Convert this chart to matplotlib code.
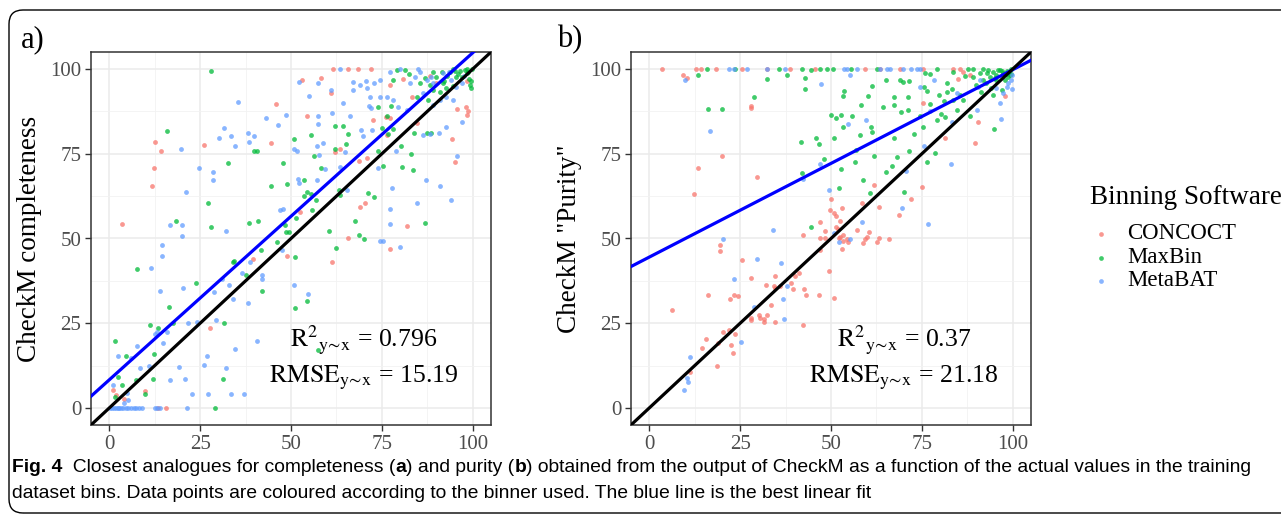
import numpy as np
import matplotlib
matplotlib.use('Agg')
import matplotlib.pyplot as plt
import matplotlib.patches as mpatches
from matplotlib.lines import Line2D

plt.rcParams['font.family'] = ['Liberation Serif', 'DejaVu Serif']
plt.rcParams['mathtext.fontset'] = 'stix'

binners = ['CONCOCT', 'MaxBin', 'MetaBAT']
colours = ['#F8766D', '#00BA38', '#619CFF']

# ---- panel a: completeness (actual x, CheckM y) ----
a_concoct_x = [3.4, 12.6, 14.3, 12.4, 11.7, 1.1, 1.8, 4.1, 9.9, 15.5, 13.5, 27.7, 26, 39.6, 45.9,
               44.4, 48.9, 52.6, 52.9, 54.5, 58.3, 61.5, 65.6, 68.4, 71.9, 61, 62.1, 63.5, 61.4,
               65.6, 68.7, 71, 70.3, 69.1, 72.5, 76, 77.2, 76.3, 77.2, 82, 83.3, 84.6, 94.4, 95,
               95.7, 98.1, 98.6, 98.4, 80.7, 77.2, 90, 88.2, 98.3]
a_concoct_y = [54.3, 78.5, 75.7, 70.7, 65.5, 5.2, 3.9, 2.8, 4.9, 0, 0, 23.6, 77.6, 44.1, 89.7,
               78.3, 44.7, 57.7, 96.7, 86.2, 97.3, 100, 100, 100, 100, 92.8, 75.5, 76.5, 43.2,
               50.1, 73, 73.7, 60.6, 59.3, 84.8, 85.8, 85.4, 80.5, 46.8, 53.7, 91.7, 84.2, 79.4, 72.6,
               88.1, 88.9, 87.7, 86.4, 97.1, 95.4, 95.8, 97.9, 96.5]

a_maxbin_x = [27.9, 15.9, 7.6, 1.6, 2.3, 3.6, 4.6, 1.6, 7.5, 9.9, 11.2, 13.5, 12.3, 12, 16.4,
              17.5, 18.4, 23.8, 27.3, 27.9, 29.2, 31.3, 31.7, 32.7, 34, 34.3, 37.6, 38.5, 39.7,
              40.6, 41, 41.7, 42.1, 44.4, 46.1, 47.9, 48.3, 49, 48.6, 49.5, 50.8, 51.2, 51, 51.3,
              53.6, 54.5, 54.5, 55.6, 53.6, 55.9, 55.6, 56.2, 56.9, 58.2, 60.5, 62.1, 62.1, 62.4,
              63.2, 63.5, 64.4, 65.6, 65, 67.5, 68.6, 70.1, 71.1, 72.7, 73.9, 74.9, 75.4, 76.8,
              78.1, 80.2, 80.6, 82.9, 83.6, 83.7, 86.9, 87.5, 88.6, 74, 77.6, 82.4, 85.5, 87.7,
              89.1, 91.9, 93.7, 95.5, 97.8, 98.7, 99.5, 99.1, 79.1, 81.4, 78.1, 84.6, 90.9, 92.7,
              88.2, 90, 94.6, 96.4, 99.7, 98.3, 89.1, 86.8, 76.3, 57.4, 93, 96, 97, 99, 95, 92,
              98.5, 99.5, 94.5, 91.5]
a_maxbin_y = [99.4, 81.6, 41, 19.9, 9.3, 6.7, 15.4, 3.4, 8.3, 4.1, 24.6, 23.5, 15.9, 8.6, 29.9,
              25, 55.2, 37, 60.4, 53.4, 0, 8.5, 25, 72.4, 43, 43.4, 39.2, 54.5, 75.8,
              75.8, 55.3, 46.7, 34.5, 65.6, 48.9, 72.4, 53.9, 66.2, 51.8, 51.8, 79.3, 29.5, 44.6, 56.1,
              67.3, 31.6, 63.7, 63, 62.4, 58.4, 80.6, 74.4, 61.4, 70.9, 52.3, 76.5, 83.1, 47.3,
              64.4, 62.7, 83.2, 80.9, 77.9, 55.3, 51, 49.8, 63.4, 62.3, 75.9, 82.6, 71.5, 80.7,
              82.3, 77.3, 71.1, 74.9, 70.2, 81, 54.5, 81.2, 81.2, 88.7, 89.1, 98.5, 96, 90.9,
              93.8, 95.8, 99.2, 97.7, 99.7, 99.2, 94.3, 95.3, 99.7, 99.7, 96.8, 91.8, 93.3, 94.3,
              95.3, 97.7, 100, 99.5, 100, 100, 99.2, 97.3, 86, 17.2, 98, 98.5, 97.5, 97, 99.5, 96.5,
              98.8, 96.5, 95, 99]

a_metabat_x = [35.4, 31.7, 33.4, 34.6, 30.2, 38.1, 39.8, 38.4, 43.2, 46.3, 48.5, 52.1, 54.9, 57.3,
               61, 64.3, 61.2, 57.3, 57.4, 19.7, 24.6, 28.6, 28.6, 21.2, 16.6, 19.9, 19.9, 14.5,
               14.5, 32.1, 11.4, 13.9, 20.3, 14.9, 15.8, 12.5, 13.2, 2.3, 7.6, 6.1, 1, 8.5, 11,
               4.8, 5.3, 4.1, 0.3, 0.8, 1.3, 1.8, 2.3, 2.8, 3.3, 3.8, 4.5, 5.2, 6, 6.8, 7.5, 8.3, 9,
               12.5, 13.2, 14, 21.3, 16.8, 19.3, 20.8, 22.9, 26, 27.3, 26.8, 29.5, 33.5, 34.6, 37,
               32, 21.8, 24.2, 28.8, 30.9, 33, 34.1, 36.6, 38.1, 38.6, 40.6, 41.9, 42.1, 50.7, 50.7,
               51.6, 51.9, 52.3, 47.9, 47.1, 47.5, 54.6, 57.2, 57.6, 58.9, 59.4, 57.1, 64.9, 65.4,
               63.6, 66.3, 69.3, 69.9, 71.5, 71.9, 72.4, 74, 74.5, 75.2, 77.9, 77.2, 77.2, 79.9, 79,
               87.1, 84.6, 91, 94, 95.6, 97.1, 88.2, 86.4, 90.8, 92.6, 94.6, 74.5, 76.3, 74.5, 70.8,
               69, 67.1, 72.7, 78.1, 79.5, 81.8, 84.1, 84.8, 85.6, 80, 63.5, 77.2, 87.3, 89.1, 91.9,
               94.1, 95.5, 96.9, 90.9, 92.7, 89.1, 86.4, 82.7, 71.6, 70.5, 67.1, 93.5, 97.5, 88.5]
a_metabat_y = [90.2, 82.7, 80.2, 77.4, 79.7, 81.1, 80.1, 78.6, 85.5, 83.5, 86.3, 96.3, 92, 95.8,
               93.8, 89.9, 86.9, 83.8, 86.2, 76.4, 70.8, 69.5, 67.2, 63.8, 54, 54, 50.6, 48,
               44.9, 52.2, 41.4, 34.4, 35.4, 19.1, 22.3, 21.8, 22.4, 15.4, 18.2, 14.7, 6.9, 11.8, 12.3,
               4.4, 2.5, 1.5, 0, 0, 0, 0, 0, 0, 0, 0, 0, 0, 0, 0, 0, 0, 0,
               0, 0, 0, 0, 8.3, 12, 8.5, 4.1, 12.6, 4, 15.4, 25.9, 4, 17.3, 4,
               11.9, 25, 25.4, 34.3, 38.2, 36.3, 32.2, 39.8, 30.9, 43.2, 19.9, 39.2, 38, 36.4, 76.3,
               75.9, 67.5, 66.5, 58.6, 58.4, 46.7, 33.5, 77.3, 74.6, 78.2, 70.6, 67.3, 75.5, 64.4,
               71.2, 86, 82, 80.3, 89.1, 88.4, 82, 70.7, 49.2, 49.2, 64.8, 58.6, 54.3, 47.5, 75.8,
               67.3, 60.4, 65.6, 61.3, 74.2, 84.5, 80.8, 80.6, 81.2, 82.8, 90.9, 96.8, 91.8, 91.8, 94.3,
               95.3, 96.3, 95.8, 90.9, 88.9, 87.9, 97.7, 100, 99.2, 100, 100, 99.2, 96.8, 95.8, 98.7,
               96.8, 94.8, 95.8, 90.9, 91.8, 89.4, 92.8, 95.8, 91.8, 96.4, 93.8, 99, 98, 97.5]

# ---- panel b: purity ----
b_concoct_x = [3.4, 12.8, 14.2, 18.5, 25.6, 32.3, 38.8, 45.7, 59.4, 63.5, 69, 75.4, 83.6, 85.4,
               86.3, 88.2, 85, 9.3, 10.5, 27.9, 27.9, 20.1, 13.5, 12.2, 29.7, 6.2, 16.2, 25.6,
               19.6, 19.4, 20.4, 22, 22.1, 23.3, 24.5, 23.7, 22.4, 23.1, 15.5, 14.6, 18.7, 18.8,
               11.2, 27.9, 27.9, 28, 30.2, 30.6, 31.5, 31.7, 32.4, 32, 33.4, 34.3, 34.5, 34.5,
               34.5, 36.1, 39, 39.5, 40, 41.2, 42.3, 42.7, 43.1, 42.2, 46.6, 47.1, 46.9, 46.9,
               48.4, 48.4, 49.5, 49.7, 50.1, 50.7, 50.7, 51.3, 51.5, 51.9, 52.5, 52.9, 52.5, 53.4,
               53.2, 54.4, 54.8, 52.9, 52.1, 57.1, 58.5, 58.7, 59.4, 59.9, 60.5, 61.9, 62.6, 63.1,
               63.2, 65.9, 68.6, 71.9, 74.9, 75.3, 81.4, 89.7, 90.3, 97.8]
b_concoct_y = [100, 100, 100, 100, 100, 100, 100, 100, 100, 100, 100, 100, 100, 100,
               99.2, 98.2, 97.1, 98.1, 97.3, 89.1, 88.4, 74.2, 70.9, 63, 68.2, 29, 33.2, 43.6,
               48.2, 46.2, 22.3, 22.9, 32.1, 33.3, 32.9, 21.7, 18.5, 16.2, 20.4, 17.6, 12.3, 19.2,
               10.6, 38.4, 26.5, 26, 27.5, 26.5, 26.2, 25.3, 27.5, 36.3, 30.4, 35.9, 35.4, 38.9,
               25.3, 36, 36.8, 35.1, 38.8, 39.8, 24.5, 35.1, 33.2, 51.1, 33.3, 46.7, 54.8, 50,
               52.1, 50, 40.3, 58.4, 61.7, 32.4, 57.5, 56.7, 53.3, 52.8, 55.3, 59, 50.3, 51.1,
               49.4, 49.9, 49, 46.9, 50.1, 52.6, 60.4, 48.8, 49.8, 50.4, 52, 65.7, 49.1, 50,
               59.2, 49.8, 57, 61.7, 65.2, 90.1, 79.5, 78.1, 84.5, 92]

b_maxbin_x = [16, 23.6, 35.6, 41.9, 47.1, 48.9, 50.5, 55.6, 62.6, 79.1, 87.8, 13.5, 16.2, 20,
              28.8, 32.4, 38, 42.8, 42.8, 44.5, 41.8, 42, 45.9, 46.7, 48.2, 44.6, 50.1, 51.5,
              52.8, 53.4, 53.7, 53.4, 50.7, 52.3, 52.8, 55.9, 56.7, 56.9, 58.1, 58.3, 58.9, 60.3,
              60.8, 61.1, 61.4, 61.4, 61.8, 64.2, 65.2, 65.1, 66.8, 67.4, 67.4, 67.4, 68.1, 69,
              69.7, 69.3, 70.1, 71.1, 71.2, 71.4, 71.5, 72.7, 74.5, 75.3, 75.7, 76.3, 75.9, 77.2,
              76.5, 77.2, 78.6, 79.1, 79.8, 80.3, 81.2, 81.8, 82, 81.4, 83.2, 83.6, 84.6, 85.6,
              86.3, 88.2, 94.9, 94.6, 89.1, 90.9, 91.9, 93.2, 93.7, 94.6, 95.5, 96.4, 97.3, 98.3,
              99.1, 99.5, 92.7, 94, 96.9, 97.8, 89.8, 91.2, 95.3, 86.9, 89.1, 91.9, 83.6, 98, 99,
              97, 95, 99.6, 93, 96, 98.8]
b_maxbin_y = [100, 100, 100, 100, 100, 100, 100, 100, 100, 100, 100, 98.2, 88.1, 88.3,
              91.8, 97.1, 98.3, 97.3, 94.2, 99.6, 78.4, 69.2, 79.7, 77.9, 73.4, 53.3, 86.5, 85.6,
              86.3, 82.9, 93.5, 92.1, 79.6, 64.8, 70.6, 86, 72.6, 76, 80.5, 89.3, 67.3, 92,
              63.4, 82.8, 81.3, 95.1, 74.4, 88.9, 96.8, 69.7, 71.4, 79.6, 91.8, 89.3, 74, 96.8,
              96.1, 87.4, 63.7, 91.6, 87.8, 96.5, 75.8, 80.7, 86.1, 82.8, 94.6, 93.4, 98.8, 98.6,
              72.7, 89.7, 75.1, 85, 92.2, 86.8, 90.6, 93.3, 95.8, 85.8, 94.1, 90.9, 88, 92.2,
              90.9, 86.1, 82.3, 92.2, 97.7, 98.7, 96.8, 99.7, 97.7, 99.2, 98.2, 99.7, 98.9, 99.5,
              98.2, 99.9, 95.8, 94.3, 93.8, 96.8, 95.3, 93.3, 96.8, 98, 100, 100, 99.2, 98.5, 99,
              99.3, 97.2, 98.6, 98.9, 99.6, 97.5]

b_metabat_x = [21.9, 23.3, 27, 32.3, 37.3, 53.5, 54.4, 57.1, 65.4, 69.9, 71.9, 73.6, 74.5, 63.5,
               66.3, 9.9, 55.3, 47.3, 16.6, 78.2, 74.5, 84.6, 59.6, 54.6, 77.1, 83.2, 90.2, 96.7,
               96.4, 75.6, 83, 46.9, 42.4, 49.4, 69.4, 70.5, 58.5, 76.6, 34, 20.3, 50.7, 52.1,
               55.3, 29.7, 36.2, 37.8, 36.7, 37, 23.3, 28.9, 25.3, 11.2, 10.5, 10.6, 9.5, 98.7,
               99.5, 99.8, 98.3, 97.3, 95.5, 90.9, 90.5, 99.8]
b_metabat_y = [100, 100, 100, 100, 100, 100, 100, 100, 100, 100, 100, 100, 100, 100,
               100, 96.8, 98.2, 95.5, 81.7, 96.8, 94.8, 93, 85, 83.9, 87.7, 84.3, 87.9, 85.3,
               90.1, 77.4, 72, 71.9, 67.6, 64.3, 59, 70, 55, 54.3, 52.6, 49.9, 51.6, 49.1,
               49.9, 44.1, 42.8, 36.1, 32.1, 26.2, 38.1, 29.8, 19.6, 15.1, 9, 7.7, 5.4, 95.8,
               96.8, 94, 94.8, 92.8, 94.3, 96.8, 94.8, 98.2]

# best linear fits (intercept, slope) and stats
fit_a = (8.3, 0.965)
fit_b = (44.5, 0.553)
r2_a, rmse_a = '0.796', '15.19'
r2_b, rmse_b = '0.37', '21.18'

fig = plt.figure(figsize=(12.81, 5.15), dpi=100)


def draw_panel(ax, xs, ys, fit, r2, rmse, ylabel):
    for (x, y), c in zip(zip(xs, ys), colours):
        ax.scatter(x, y, s=12, color=c, alpha=0.75, linewidths=0, zorder=2)
    line_x = np.array([-5, 105])
    ax.plot(line_x, fit[0] + fit[1] * line_x, color='#0000FF', lw=2.3, zorder=3)
    ax.plot(line_x, line_x, color='black', lw=2.3, zorder=4)
    ax.set_xlim(-5, 105)
    ax.set_ylim(-5, 105)
    ax.set_xticks([0, 25, 50, 75, 100])
    ax.set_yticks([0, 25, 50, 75, 100])
    ax.set_xticks([12.5, 37.5, 62.5, 87.5], minor=True)
    ax.set_yticks([12.5, 37.5, 62.5, 87.5], minor=True)
    ax.grid(which='major', color='#EBEBEB', lw=1.1, zorder=0)
    ax.grid(which='minor', color='#F2F2F2', lw=0.6, zorder=0)
    ax.set_axisbelow(True)
    ax.tick_params(which='major', length=4, width=1, color='#333333',
                   labelsize=15, labelcolor='#4D4D4D', pad=3)
    ax.tick_params(which='minor', length=0)
    for sp in ax.spines.values():
        sp.set_color('#333333')
        sp.set_linewidth(1.1)
    ax.set_ylabel(ylabel, fontsize=19.5, labelpad=6)
    ax.text(70, 20, r'$\mathrm{R^{2}{}_{y\!\sim\!x}}$ = ' + r2, fontsize=18.5,
            ha='center', va='center', zorder=5)
    ax.text(70, 9, r'$\mathrm{RMSE_{y\!\sim\!x}}$ = ' + rmse, fontsize=18.5,
            ha='center', va='center', zorder=5)


ax_a = fig.add_axes([91 / 1281, 1 - 425 / 515, 400 / 1281, 373 / 515])
draw_panel(ax_a,
           [a_concoct_x, a_maxbin_x, a_metabat_x],
           [a_concoct_y, a_maxbin_y, a_metabat_y],
           fit_a, r2_a, rmse_a, 'CheckM completeness')

ax_b = fig.add_axes([631 / 1281, 1 - 425 / 515, 400 / 1281, 373 / 515])
draw_panel(ax_b,
           [b_concoct_x, b_maxbin_x, b_metabat_x],
           [b_concoct_y, b_maxbin_y, b_metabat_y],
           fit_b, r2_b, rmse_b, 'CheckM "Purity"')

fig.text(21 / 1281, 1 - 40 / 515, 'a)', fontsize=22, va='center', ha='left')
fig.text(557 / 1281, 1 - 40 / 515, 'b)', fontsize=22, va='center', ha='left')

# legend, drawn by hand so the spacing matches
W, H = 1281, 515
fig.text(1090 / W, 1 - 198 / H, 'Binning Software', fontsize=19.5, va='center', ha='left')
for i, (name, c) in enumerate(zip(binners, colours)):
    yy = 1 - (234 + 23.5 * i) / H
    fig.add_artist(Line2D([1101 / W], [yy], ls='', marker='o', ms=3.4, color=c,
                          alpha=0.75, mec='none', transform=fig.transFigure))
    fig.text(1127 / W, yy, name, fontsize=16.5, va='center', ha='left')

# caption, pieces placed one after another
cap_font = ['Liberation Sans', 'DejaVu Sans']
cap_size = 13.9
renderer = fig.canvas.get_renderer()


def caption_line(pieces, x0, y0):
    x = x0
    for txt, weight in pieces:
        t = fig.text(x / W, 1 - y0 / H, txt, fontsize=cap_size, fontweight=weight,
                     family=cap_font, va='center', ha='left')
        x += t.get_window_extent(renderer).width


caption_line([('Fig. 4', 'bold'), ('  Closest analogues for completeness (', 'normal'),
              ('a', 'bold'), (') and purity (', 'normal'), ('b', 'bold'),
              (') obtained from the output of CheckM as a function of the actual values '
               'in the training', 'normal')], 12, 467)
caption_line([('dataset bins. Data points are coloured according to the binner used. '
               'The blue line is the best linear fit', 'normal')], 12, 493)

# rounded frame around the figure
frame = mpatches.FancyBboxPatch((9, 2), 1320, 503,
                                boxstyle='round,pad=0,rounding_size=14',
                                transform=None, fill=False, ec='black', lw=1.0)
fig.patches.append(frame)

fig.savefig('out.png', dpi=100)
